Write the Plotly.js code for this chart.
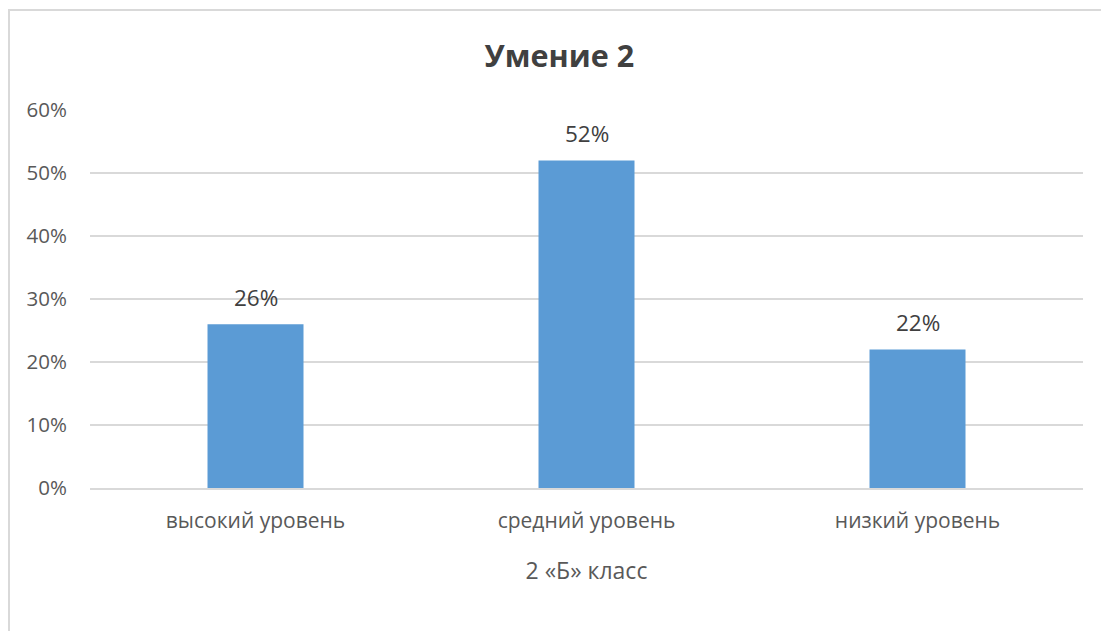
<!DOCTYPE html>
<html><head><meta charset="utf-8">
<script src="https://cdn.plot.ly/plotly-3.0.1.min.js"></script>
<style>
html,body{margin:0;padding:0;background:#fff;overflow:hidden;}
#wrap{position:absolute;left:0;top:0;width:1101px;height:631px;overflow:hidden;}
#frame{position:absolute;left:8px;top:9px;width:1200px;height:800px;border:2px solid #d9d9d9;box-sizing:border-box;}
#chart{position:absolute;left:0;top:0;width:1101px;height:631px;}
</style></head>
<body>
<div id="wrap"><div id="frame"></div><div id="chart"></div></div>
<script>
var categories = ["высокий уровень", "средний уровень", "низкий уровень"];
var values = [0.26, 0.52, 0.22];
var valueLabels = ["26%", "52%", "22%"];
var chartTitle = "Умение 2";
var xTitle = "2 «Б» класс";

var font = "'Open Sans', 'Noto Sans', sans-serif";
var trace = {
  type: 'bar', x: categories, y: values,
  marker: {color: '#5b9bd5'}, width: 0.29, hoverinfo: 'none'
};
var annotations = categories.map(function(c, i){
  return {x: c, y: values[i], xref: 'x', yref: 'y', text: valueLabels[i],
    showarrow: false, yanchor: 'bottom', yshift: 9,
    font: {family: font, size: 22.5, color: '#404040'}};
});
var layout = {
  width: 1101, height: 631,
  paper_bgcolor: 'rgba(0,0,0,0)', plot_bgcolor: 'rgba(0,0,0,0)',
  margin: {l: 90, r: 18, t: 110, b: 143},
  title: {text: '<b>' + chartTitle + '</b>', x: 0.508, xanchor: 'center', y: 0.91, yanchor: 'middle',
    font: {family: font, size: 30.5, color: '#404040'}},
  showlegend: false,
  xaxis: {type: 'category', showgrid: false, showline: true, linecolor: '#d9d9d9', linewidth: 1.5,
    ticks: '', tickfont: {family: font, size: 21, color: '#595959'}, ticklabelstandoff: 13,
    title: {text: xTitle, font: {family: font, size: 23, color: '#595959'}, standoff: 30}},
  yaxis: {range: [0, 0.6], tickvals: [0,0.1,0.2,0.3,0.4,0.5,0.6], tickformat: '.0%',
    showgrid: true, gridcolor: '#d9d9d9', gridwidth: 1.5, zeroline: false, showline: false,
    ticks: '', tickfont: {family: font, size: 20.5, color: '#595959'}, ticklabelstandoff: 22},
  annotations: annotations
};
Plotly.newPlot('chart', [trace], layout, {staticPlot: true, displayModeBar: false});
</script>
</body></html>
